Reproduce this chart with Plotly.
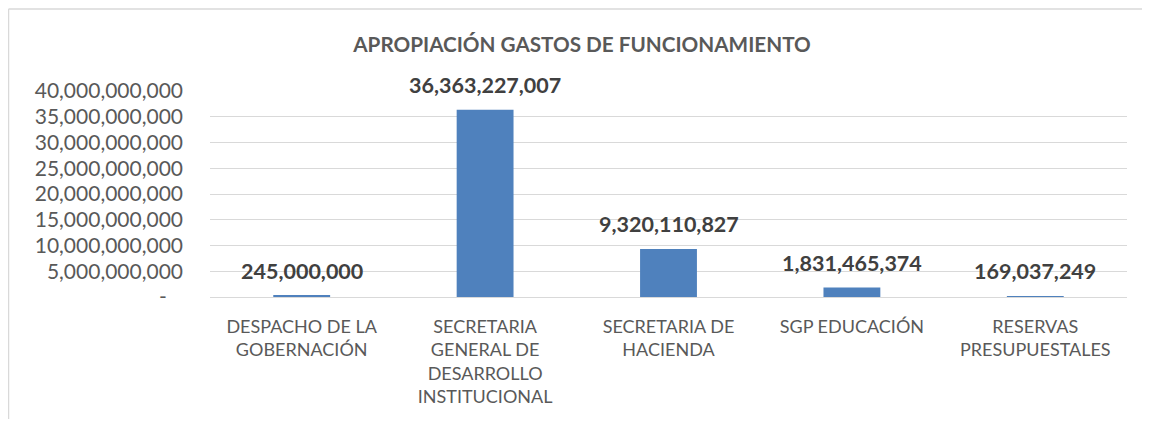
import plotly.graph_objects as go

categories = [
    "DESPACHO DE LA<br>GOBERNACIÓN",
    "SECRETARIA<br>GENERAL DE<br>DESARROLLO<br>INSTITUCIONAL",
    "SECRETARIA DE<br>HACIENDA",
    "SGP EDUCACIÓN",
    "RESERVAS<br>PRESUPUESTALES",
]
values = [245000000, 36363227007, 9320110827, 1831465374, 169037249]
y_ticks = [0, 5e9, 10e9, 15e9, 20e9, 25e9, 30e9, 35e9, 40e9]
y_ticktext = ["-\u00a0\u00a0\u00a0"] + [f"{int(v):,}" for v in y_ticks[1:]]
title = "APROPIACIÓN GASTOS DE FUNCIONAMIENTO"

OFF = 8  # page body margin
W, H = 1150 - OFF, 427 - 2 * OFF
# plot area in page pixels: left 210, right 1127, top 91, bottom 297
ML = 210 - OFF
MR = (OFF + W) - 1127
MT = 91 - OFF
MB = (OFF + H) - 297
FONT = "Lato"

fig = go.Figure()
fig.add_trace(go.Bar(
    x=categories, y=values,
    marker=dict(color="#4F81BD", line=dict(width=0)),
    width=0.31,
    hoverinfo="x+y",
))

for c, v in zip(categories, values):
    fig.add_annotation(
        x=c, y=v, xref="x", yref="y",
        text=f"<b>{v:,}</b>", showarrow=False,
        yanchor="middle", yshift=25,
        font=dict(family=FONT, size=21.5, color="#404040"),
    )

# chart-area border (left and top edges visible in reference), page pixels
pw, ph = W - ML - MR, H - MT - MB
px = lambda p: (p - OFF - ML) / pw
py = lambda p: (OFF + H - MB - p) / ph
fig.add_shape(type="line", xref="paper", yref="paper",
              x0=px(8.5), x1=px(8.5), y0=py(9), y1=py(OFF + H + 5),
              line=dict(color="#d9d9d9", width=1.5))
fig.add_shape(type="line", xref="paper", yref="paper",
              x0=px(8.5), x1=px(OFF + W + 5), y0=py(9), y1=py(9),
              line=dict(color="#d9d9d9", width=1.5))

fig.update_layout(
    width=W, height=H,
    margin=dict(l=ML, r=MR, t=MT, b=MB),
    paper_bgcolor="white", plot_bgcolor="white",
    showlegend=False,
    title=dict(text=f"<b>{title}</b>", x=(582 - OFF) / W, xanchor="center",
               y=1 - (45 - OFF) / H, yanchor="middle",
               xref="container", yref="container",
               font=dict(family=FONT, size=20.7, color="#595959")),
    font=dict(family=FONT, color="#595959"),
    bargap=0.69,
)
fig.update_xaxes(
    showgrid=False, zeroline=False, showline=False, ticks="",
    tickfont=dict(family=FONT, size=18, color="#595959"),
    ticklabelstandoff=17,
)
fig.update_yaxes(
    range=[0, 40e9], tickvals=y_ticks, ticktext=y_ticktext,
    showgrid=True, gridcolor="#d9d9d9", gridwidth=1,
    zeroline=True, zerolinecolor="#d9d9d9", zerolinewidth=1,
    showline=False, ticks="",
    tickfont=dict(family=FONT, size=21, color="#595959"),
    ticklabelstandoff=26,
)

fig.write_html("out.html")
